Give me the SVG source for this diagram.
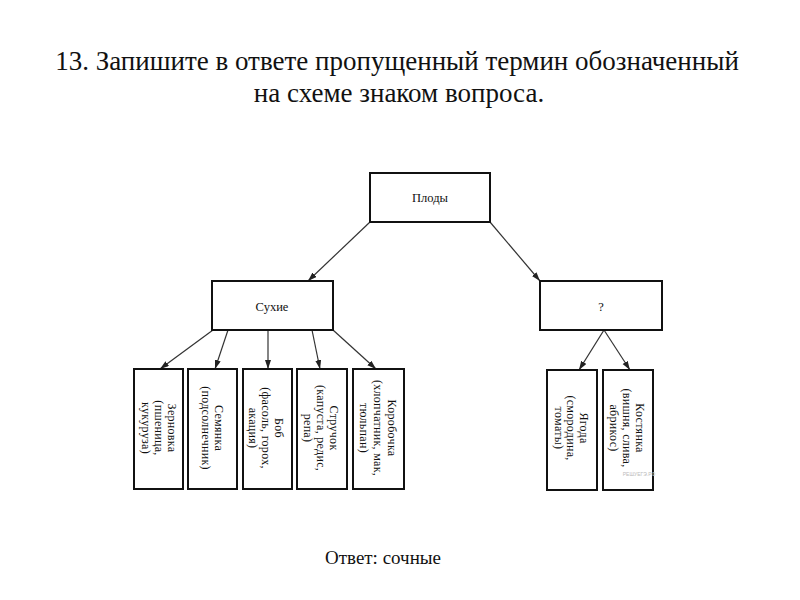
<svg xmlns="http://www.w3.org/2000/svg" width="800" height="600" viewBox="0 0 800 600">
<defs>
<style>
.t{font-family:"Liberation Serif","Times New Roman",serif;fill:#111}
.title{font-size:27px}
.box{fill:#fff;stroke:#111;stroke-width:2}
.lbl{font-size:12.5px;text-anchor:middle}
.v{font-size:12px;text-anchor:middle;dominant-baseline:central;letter-spacing:0.3px}
.c{stroke:#333;stroke-width:1.2;fill:none;marker-end:url(#ah)}
</style>
<marker id="ah" markerUnits="userSpaceOnUse" markerWidth="10" markerHeight="8" refX="9" refY="3" orient="auto">
<path d="M0,0 L9,3 L0,6 z" fill="#222"/>
</marker>
</defs>
<rect width="800" height="600" fill="#fff"/>
<g id="title">
<text class="t title" x="397" y="70" text-anchor="middle">13. Запишите в ответе пропущенный термин обозначенный</text>
<text class="t title" x="399" y="102" text-anchor="middle">на схеме знаком вопроса.</text>
</g>
<g id="connectors">
<line class="c" x1="370" y1="222" x2="308" y2="281"/>
<line class="c" x1="490" y1="222" x2="540" y2="281"/>
<line class="c" x1="213" y1="330" x2="160" y2="369"/>
<line class="c" x1="228" y1="330" x2="215" y2="369"/>
<line class="c" x1="268" y1="330" x2="268" y2="369"/>
<line class="c" x1="312" y1="330" x2="320" y2="369"/>
<line class="c" x1="333" y1="330" x2="376" y2="369"/>
<line class="c" x1="604" y1="330" x2="579" y2="370"/>
<line class="c" x1="604" y1="330" x2="630" y2="370"/>
</g>
<g id="plody">
<rect class="box" x="370" y="173" width="120" height="49"/>
<text class="t lbl" x="430" y="202">Плоды</text>
</g>
<g id="suhie">
<rect class="box" x="212" y="281" width="121" height="49"/>
<text class="t lbl" x="272" y="311">Сухие</text>
</g>
<g id="unknown">
<rect class="box" x="540" y="281" width="122" height="49"/>
<text class="t lbl" x="601" y="311">?</text>
</g>
<g id="zernovka">
<rect class="box" x="134" y="369" width="49" height="120"/>
<text class="t v" transform="translate(158.5 428) rotate(90)"><tspan x="0" y="-13">Зерновка</tspan><tspan x="0" y="0">(пшеница,</tspan><tspan x="0" y="13">кукуруза)</tspan></text>
</g>
<g id="semyanka">
<rect class="box" x="188" y="369" width="49" height="120"/>
<text class="t v" transform="translate(212.5 428) rotate(90)"><tspan x="0" y="-6.5">Семянка</tspan><tspan x="0" y="6.5">(подсолнечник)</tspan></text>
</g>
<g id="bob">
<rect class="box" x="243" y="369" width="49" height="120"/>
<text class="t v" transform="translate(265.5 428) rotate(90)"><tspan x="0" y="-13">Боб</tspan><tspan x="0" y="0">(фасоль, горох,</tspan><tspan x="0" y="13">акация)</tspan></text>
</g>
<g id="struchok">
<rect class="box" x="297" y="369" width="50" height="120"/>
<text class="t v" transform="translate(320.5 428) rotate(90)"><tspan x="0" y="-13">Стручок</tspan><tspan x="0" y="0">(капуста, редис,</tspan><tspan x="0" y="13">репа)</tspan></text>
</g>
<g id="korobochka">
<rect class="box" x="353" y="369" width="51" height="120"/>
<text class="t v" transform="translate(378 428) rotate(90)"><tspan x="0" y="-14">Коробочка</tspan><tspan x="0" y="0">(хлопчатник, мак,</tspan><tspan x="0" y="14">тюльпан)</tspan></text>
</g>
<g id="yagoda">
<rect class="box" x="547" y="370" width="50" height="120"/>
<text class="t v" transform="translate(571 428) rotate(90)"><tspan x="0" y="-12.5">Ягода</tspan><tspan x="0" y="0">(смородина,</tspan><tspan x="0" y="12.5">томаты)</tspan></text>
</g>
<g id="kostyanka">
<rect class="box" x="603" y="370" width="50" height="120"/>
<text class="t v" transform="translate(627 428) rotate(90)"><tspan x="0" y="-13">Костянка</tspan><tspan x="0" y="0">(вишня, слива,</tspan><tspan x="0" y="13">абрикос)</tspan></text>
</g>
<text x="639" y="476" font-family="Liberation Sans, Arial, sans-serif" font-size="5" fill="#bbb" text-anchor="middle">РЕШУЕГЭ.РФ</text>
<g id="answer">
<text class="t" x="325" y="564" font-size="19">Ответ: сочные</text>
</g>
</svg>
